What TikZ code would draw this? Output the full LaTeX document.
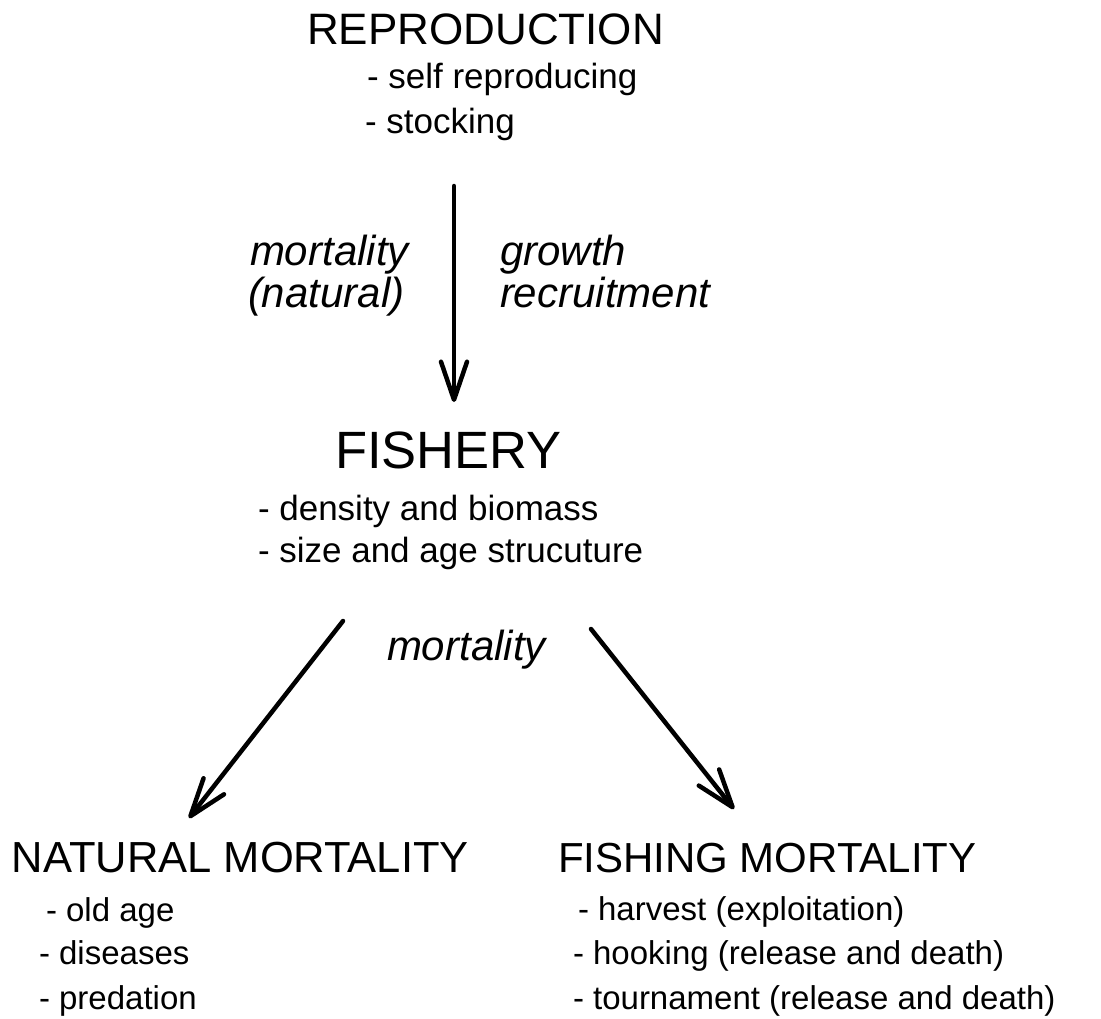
\documentclass[tikz,border=0pt]{standalone}
\usepackage{fontspec}
\setmainfont{Liberation Sans}
\usetikzlibrary{arrows.meta}
\newcommand{\fsz}[1]{\fontsize{#1}{#1}\selectfont}
\tikzset{
  txt/.style={anchor=base west, inner sep=0pt, outer sep=0pt},
  head/.style={txt, font=\fsz{43.5}},
  big/.style={txt, font=\fsz{52.5}},
  upitem/.style={txt, font=\fsz{35}},
  lowitem/.style={txt, font=\fsz{33}},
  lab/.style={txt, font=\fsz{42}\itshape},
  arr/.style={line width=4.5pt, line cap=round, -{Straight Barb[length=38pt, width=26pt, round]}}
}
\begin{document}
\begin{tikzpicture}[x=1pt, y=-1pt]
\useasboundingbox (0,0) rectangle (1101,1018);
% top
\node[head, font=\fsz{44}] (repro) at (307,44) {REPRODUCTION};
\node[upitem] (r1) at (367,88) {- self reproducing};
\node[upitem] (r2) at (365,133) {- stocking};
% vertical arrow and labels
\coordinate (vtop) at (454,186);
\coordinate (vtip) at (454,402);
\draw[arr] (vtop) -- (vtip);
\node[lab] (m1) at (250,265) {mortality};
\node[lab] (m2) at (248,307) {(natural)};
\node[lab] (g1) at (500,265) {growth};
\node[lab] (g2) at (500,307) {recruitment};
% fishery
\node[big] (fish) at (335,468) {FISHERY};
\node[upitem] (f1) at (258,520) {- density and biomass};
\node[upitem] (f2) at (258,562) {- size and age strucuture};
\node[lab] (mort) at (387,660) {mortality};
% diagonal arrows
\coordinate (lstart) at (343,621);
\coordinate (ltip) at (189,818);
\coordinate (rstart) at (591,629);
\coordinate (rtip) at (734,809);
\draw[arr] (lstart) -- (ltip);
\draw[arr] (rstart) -- (rtip);
% bottom
\node[head] (nat) at (12,872) {NATURAL MORTALITY};
\node[head, font=\fsz{42}] (fm) at (558,872) {FISHING MORTALITY};
\node[lowitem] (n1) at (46,921) {- old age};
\node[lowitem] (n2) at (39,964) {- diseases};
\node[lowitem] (n3) at (39,1009) {- predation};
\node[lowitem] (h1) at (578,920) {- harvest (exploitation)};
\node[lowitem] (h2) at (573,964) {- hooking (release and death)};
\node[lowitem] (h3) at (573,1009) {- tournament (release and death)};
\end{tikzpicture}
\end{document}
